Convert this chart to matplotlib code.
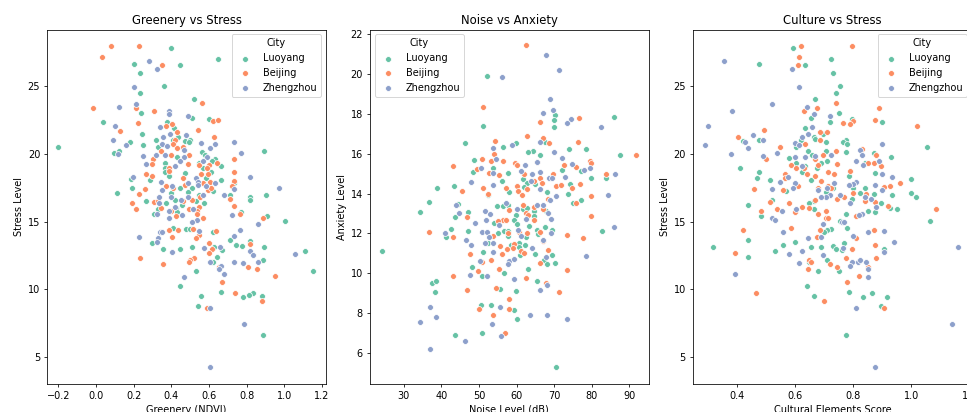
'''
Three scatter panels: urban environment against stress and anxiety, by city.
'''

import matplotlib
matplotlib.use('Agg')
import matplotlib.pyplot as plt

cities = ['Luoyang', 'Beijing', 'Zhengzhou']
city_colors = ['#66c2a5', '#fc8d62', '#8da0cb']

# Greenery vs Stress
ndvi_luoyang = [-0.2, 0.40, 0.65, 0.20, 0.445, 0.235, 0.36, 0.235, 0.52, 0.24, 0.035, 0.375, 0.51, 0.60, 0.415, 0.245, 0.435, 0.32, 0.41, 0.18, 0.47, 0.50, 0.495, 0.25, 0.33, 0.12, 0.095, 0.565, 0.89, 0.58, 0.43, 0.63, 0.615, 0.365, 0.545, 0.665, 0.365, 0.57, 0.365, 0.39, 0.475, 0.61, 0.285, 0.185, 0.585, 0.665, 0.73, 0.19, 0.445, 0.51, 0.11, 0.49, 0.62, 0.40, 0.545, 0.71, 0.815, 0.905, 0.815, 0.265, 0.42, 0.53, 0.575, 0.37, 0.455, 0.33, 0.425, 0.43, 0.31, 0.77, 0.91, 1.005, 0.41, 0.48, 0.50, 0.62, 0.71, 0.295, 0.82, 0.745, 0.775, 0.89, 0.355, 0.445, 0.51, 0.625, 0.67, 1.11, 0.645, 0.885, 0.62, 1.15, 0.53, 0.445, 0.665, 0.835, 0.81, 0.78, 0.88, 0.56, 0.54, 0.885]
stress_luoyang = [20.5, 27.85, 27.0, 26.65, 26.6, 26.0, 25.05, 24.5, 24.05, 23.05, 22.4, 22.4, 22.65, 22.55, 21.9, 21.5, 21.25, 21.0, 21.0, 20.85, 20.95, 21.05, 20.85, 20.7, 20.5, 20.25, 20.1, 20.15, 20.2, 19.9, 19.8, 19.65, 19.5, 19.3, 19.35, 19.1, 18.95, 18.95, 18.65, 18.4, 18.6, 18.7, 18.1, 18.15, 18.2, 18.1, 17.85, 17.45, 17.45, 17.5, 17.15, 17.2, 17.25, 17.1, 17.0, 17.0, 16.85, 16.95, 16.6, 16.55, 16.6, 16.5, 16.4, 16.35, 16.2, 15.9, 16.0, 15.7, 15.6, 15.7, 15.45, 15.05, 14.5, 14.45, 14.45, 14.2, 13.65, 13.4, 13.55, 13.3, 13.2, 13.1, 13.0, 13.0, 13.15, 13.1, 12.9, 12.85, 12.35, 12.2, 12.05, 11.35, 11.35, 10.25, 9.8, 9.75, 9.55, 9.45, 9.5, 9.5, 8.8, 6.65]
ndvi_beijing = [0.08, 0.23, 0.03, 0.35, 0.565, -0.015, 0.21, 0.31, 0.62, 0.65, 0.225, 0.405, 0.37, 0.125, 0.54, 0.43, 0.625, 0.42, 0.41, 0.43, 0.46, 0.345, 0.305, 0.40, 0.495, 0.73, 0.30, 0.49, 0.545, 0.64, 0.60, 0.59, 0.39, 0.385, 0.265, 0.295, 0.735, 0.555, 0.595, 0.46, 0.73, 0.605, 0.57, 0.72, 0.475, 0.37, 0.41, 0.26, 0.595, 0.61, 0.23, 0.55, 0.71, 0.19, 0.31, 0.46, 0.51, 0.33, 0.735, 0.215, 0.545, 0.495, 0.345, 0.535, 0.535, 0.425, 0.40, 0.765, 0.57, 0.885, 0.385, 0.435, 0.635, 0.515, 0.405, 0.545, 0.53, 0.60, 0.82, 0.615, 0.60, 0.235, 0.52, 0.50, 0.495, 0.355, 0.655, 0.805, 0.855, 0.95, 0.67, 0.74, 0.88, 0.59]
stress_beijing = [27.95, 28.0, 27.15, 26.6, 23.8, 23.4, 23.4, 23.15, 22.45, 22.5, 22.3, 22.2, 22.05, 21.7, 21.75, 21.65, 21.25, 21.05, 20.75, 20.45, 20.5, 20.2, 19.65, 19.9, 19.9, 19.65, 19.25, 19.25, 19.15, 19.3, 19.15, 18.95, 18.95, 18.75, 18.55, 18.4, 18.65, 18.5, 18.55, 18.2, 18.0, 17.9, 17.85, 17.65, 17.7, 17.6, 17.5, 17.4, 17.35, 17.45, 17.05, 16.85, 16.7, 16.35, 16.45, 16.55, 16.6, 16.5, 16.15, 15.9, 16.05, 15.9, 16.0, 15.8, 15.55, 15.45, 15.75, 15.6, 15.25, 15.3, 14.4, 14.4, 14.3, 14.45, 13.9, 14.0, 13.8, 13.45, 13.35, 13.0, 12.7, 12.3, 12.3, 12.2, 12.0, 11.9, 11.65, 11.65, 11.5, 11.0, 10.55, 9.7, 9.15, 8.6]
ndvi_zhengzhou = [0.28, 0.325, 0.20, 0.21, 0.12, 0.385, 0.39, 0.49, 0.10, 0.34, 0.395, 0.48, 0.09, 0.355, 0.35, 0.16, 0.375, 0.555, 0.63, 0.605, 0.735, 0.77, 0.465, 0.115, 0.365, 0.32, 0.25, 0.465, 0.59, 0.445, 0.57, 0.265, 0.42, 0.195, 0.815, 0.345, 0.53, 0.63, 0.49, 0.54, 0.54, 0.405, 0.585, 0.35, 0.73, 0.97, 0.68, 0.57, 0.40, 0.49, 0.335, 0.45, 0.335, 0.515, 0.42, 0.39, 0.455, 0.325, 0.39, 0.72, 0.535, 0.51, 0.86, 0.765, 0.545, 0.34, 0.35, 0.23, 0.73, 0.33, 0.325, 0.66, 0.575, 0.82, 0.405, 0.835, 1.055, 0.735, 0.78, 0.86, 0.605, 0.665, 0.655, 0.68, 0.465, 0.605, 0.785, 0.605]
stress_zhengzhou = [26.9, 26.25, 24.95, 23.7, 23.5, 23.2, 22.95, 22.8, 22.1, 22.0, 21.5, 21.4, 21.05, 21.25, 20.75, 20.7, 20.6, 20.8, 20.75, 20.45, 20.85, 20.1, 20.3, 20.0, 19.95, 19.9, 19.85, 19.75, 19.75, 19.5, 19.45, 19.25, 19.1, 18.3, 18.3, 17.95, 18.2, 17.85, 17.85, 17.9, 17.7, 17.65, 17.65, 17.35, 17.4, 17.5, 17.0, 17.0, 16.8, 16.8, 16.85, 16.6, 16.35, 15.95, 16.05, 15.75, 15.5, 15.6, 15.3, 15.5, 15.1, 14.95, 14.85, 14.35, 14.3, 14.2, 14.25, 13.9, 13.95, 13.8, 13.5, 13.15, 13.05, 12.85, 12.75, 12.55, 12.6, 12.0, 11.95, 12.05, 12.05, 11.75, 11.5, 11.15, 10.9, 8.6, 7.4, 4.25]

# Noise vs Anxiety
noise_luoyang = [24.2, 70.4, 52.2, 51.2, 85.8, 70.3, 69.9, 70.0, 46.3, 59.8, 56.3, 67.6, 64.4, 63.1, 66.1, 73.9, 78.4, 87.5, 48.6, 53.8, 48.3, 57.8, 72.1, 77.1, 56.1, 61.8, 62.7, 62.0, 64.8, 79.9, 83.8, 74.3, 43.4, 38.8, 52.3, 58.0, 68.1, 73.6, 36.6, 77.1, 75.1, 44.4, 54.8, 56.4, 57.7, 34.2, 47.0, 61.6, 62.7, 64.7, 67.7, 59.9, 64.7, 43.6, 59.2, 53.9, 60.0, 63.3, 67.6, 42.5, 47.0, 56.6, 57.6, 55.0, 65.5, 69.5, 65.7, 82.7, 41.3, 57.8, 62.5, 52.3, 58.5, 60.7, 62.3, 60.6, 51.1, 60.9, 64.8, 69.5, 67.4, 68.0, 70.2, 48.2, 63.1, 56.7, 50.7, 65.3, 37.4, 38.7, 55.5, 59.9, 38.2, 50.5, 53.1, 59.3, 60.0, 43.7, 50.8]
anxiety_luoyang = [11.1, 5.3, 19.9, 17.4, 17.85, 17.95, 17.7, 17.35, 16.55, 16.55, 16.35, 16.6, 16.15, 16.1, 15.95, 16.25, 16.25, 15.95, 15.7, 15.3, 15.1, 15.05, 15.2, 15.15, 14.65, 14.75, 14.55, 14.35, 14.5, 14.8, 14.8, 14.5, 14.4, 14.3, 13.95, 14.1, 14.1, 14.0, 13.6, 13.7, 13.55, 13.5, 13.4, 13.4, 13.45, 13.1, 13.1, 13.25, 13.3, 13.15, 13.15, 12.95, 12.9, 12.85, 12.7, 12.5, 12.45, 12.35, 12.3, 12.2, 12.1, 12.1, 12.1, 12.0, 12.15, 12.15, 11.95, 12.1, 11.8, 11.85, 11.8, 11.5, 11.4, 11.5, 11.4, 11.3, 11.05, 10.9, 10.95, 10.9, 10.65, 10.45, 10.5, 10.3, 10.2, 10.0, 9.85, 9.6, 9.5, 9.6, 9.2, 9.1, 9.05, 8.4, 8.4, 8.15, 7.7, 6.9, 7.0]
noise_beijing = [62.5, 51.2, 76.5, 66.2, 62.9, 66.9, 54.3, 68.7, 76.2, 54.1, 91.7, 50.9, 53.3, 56.5, 59.6, 60.1, 65.3, 79.6, 79.8, 43.1, 72.5, 75.7, 49.5, 52.7, 62.0, 69.6, 55.4, 83.8, 66.3, 64.6, 66.7, 76.8, 70.4, 71.7, 60.0, 45.6, 51.1, 57.2, 74.6, 62.9, 60.5, 61.4, 52.4, 79.8, 68.3, 75.7, 61.6, 64.6, 58.1, 66.9, 62.4, 79.9, 46.7, 63.1, 56.3, 57.1, 55.1, 64.7, 66.3, 36.6, 62.9, 60.6, 57.8, 53.7, 73.4, 43.1, 77.7, 66.9, 59.3, 55.7, 57.5, 59.0, 68.3, 61.2, 61.9, 47.6, 56.1, 53.2, 50.7, 66.2, 55.2, 49.8, 73.3, 43.0, 62.4, 67.9, 54.4, 46.9, 71.2, 57.9, 49.9, 57.9, 53.8, 56.8]
anxiety_beijing = [21.45, 18.35, 17.8, 17.6, 16.9, 16.8, 16.65, 16.55, 16.6, 16.0, 15.95, 15.75, 15.65, 15.65, 15.55, 15.45, 15.6, 15.65, 15.55, 15.4, 15.45, 15.35, 15.25, 15.05, 15.0, 15.0, 14.95, 15.0, 14.8, 14.65, 14.55, 14.5, 14.4, 14.45, 14.4, 14.15, 14.3, 14.3, 14.3, 14.25, 14.15, 13.95, 14.0, 13.9, 13.75, 13.55, 13.45, 13.35, 13.2, 13.25, 13.05, 12.9, 12.85, 12.95, 12.7, 12.7, 12.65, 12.7, 12.05, 12.05, 12.0, 12.05, 12.0, 11.85, 11.9, 11.8, 11.75, 11.6, 11.45, 11.35, 11.2, 11.25, 11.15, 11.1, 11.0, 10.95, 10.95, 10.65, 10.55, 10.5, 10.2, 10.1, 10.15, 9.85, 9.75, 9.5, 9.25, 9.15, 9.05, 8.7, 8.2, 8.2, 7.9, 7.0]
noise_zhengzhou = [67.9, 71.4, 56.2, 68.8, 69.7, 67.1, 74.5, 73.4, 82.5, 66.3, 58.8, 53.8, 70.0, 72.2, 54.4, 65.4, 62.3, 74.8, 79.5, 50.6, 77.9, 61.3, 53.7, 64.1, 66.2, 86.2, 73.0, 68.7, 69.5, 48.0, 63.9, 53.8, 66.1, 70.5, 84.3, 69.0, 57.2, 43.9, 65.5, 67.1, 60.1, 51.7, 44.7, 68.4, 53.0, 62.4, 69.1, 51.8, 48.9, 55.4, 85.8, 50.8, 52.1, 60.3, 41.1, 69.2, 52.8, 61.1, 46.5, 67.1, 51.6, 53.7, 47.9, 64.0, 53.8, 78.5, 67.9, 50.2, 57.9, 59.4, 57.7, 47.6, 52.1, 59.3, 68.2, 66.3, 37.1, 55.6, 63.7, 68.0, 38.6, 73.4, 34.2, 53.5, 55.8, 46.3, 37.1]
anxiety_zhengzhou = [20.95, 20.2, 19.85, 18.75, 18.2, 18.05, 17.75, 17.55, 17.35, 16.6, 16.45, 16.3, 16.1, 15.8, 15.75, 15.6, 15.45, 15.5, 15.3, 15.3, 15.2, 15.15, 15.05, 15.0, 15.1, 15.0, 14.85, 14.8, 14.8, 14.6, 14.65, 14.45, 14.25, 13.9, 13.95, 13.7, 13.55, 13.45, 13.45, 13.45, 13.25, 13.15, 13.05, 13.05, 13.0, 12.75, 12.75, 12.7, 12.5, 12.4, 12.3, 12.05, 12.05, 12.15, 12.0, 12.0, 11.8, 11.85, 11.65, 11.65, 11.5, 11.5, 11.4, 11.25, 11.05, 10.85, 10.8, 10.6, 10.6, 10.7, 10.45, 9.9, 9.85, 9.7, 9.4, 9.15, 8.3, 8.3, 7.9, 7.9, 7.8, 7.7, 7.55, 7.45, 6.85, 6.6, 6.2]

# Culture vs Stress
culture_luoyang = [0.32, 0.475, 0.595, 0.635, 0.725, 0.73, 0.755, 0.74, 0.67, 0.75, 0.655, 0.795, 0.72, 0.90, 0.635, 0.695, 0.665, 0.67, 0.42, 0.475, 0.62, 0.775, 0.705, 0.765, 0.78, 0.605, 1.055, 0.645, 0.87, 0.705, 0.775, 0.66, 0.93, 0.58, 0.71, 0.605, 0.69, 0.84, 0.635, 0.41, 0.675, 0.625, 0.475, 0.875, 0.785, 0.47, 0.515, 0.655, 1.0, 0.80, 0.84, 0.73, 0.57, 0.705, 0.825, 1.0, 0.87, 0.935, 1.015, 0.795, 0.52, 0.665, 0.895, 0.65, 0.44, 0.925, 0.665, 0.95, 0.85, 0.875, 0.775, 0.485, 0.755, 1.065, 0.78, 0.725, 0.71, 0.70, 0.44, 0.60, 0.77, 0.56, 0.73, 0.69, 0.655, 0.905, 0.74, 0.53, 0.76, 0.44, 0.71, 0.65, 0.68, 0.75, 0.64, 0.785, 0.865, 0.665, 0.835, 0.915, 0.895, 0.775]
culture_stress_luoyang = [13.15, 26.65, 27.85, 26.6, 27.0, 26.0, 25.05, 24.5, 24.05, 23.05, 22.65, 22.55, 22.4, 22.4, 21.9, 21.5, 21.25, 21.1, 20.95, 21.0, 21.0, 21.05, 20.85, 20.85, 20.75, 20.5, 20.5, 20.25, 20.1, 20.2, 20.15, 19.9, 19.8, 19.7, 19.5, 19.3, 19.3, 19.35, 19.1, 18.95, 18.95, 18.7, 18.65, 18.6, 18.4, 18.2, 18.1, 18.1, 18.15, 17.5, 17.45, 17.45, 17.25, 17.2, 17.15, 17.1, 17.05, 17.0, 16.85, 16.65, 16.6, 16.55, 16.4, 16.35, 16.2, 16.0, 15.95, 15.95, 15.75, 15.7, 15.55, 15.45, 15.05, 15.05, 14.5, 14.45, 14.35, 14.2, 13.65, 13.5, 13.4, 13.3, 13.2, 13.1, 13.1, 13.0, 13.0, 12.85, 12.9, 12.35, 12.2, 12.05, 11.35, 11.35, 10.25, 9.8, 9.75, 9.5, 9.45, 9.45, 8.8, 6.65]
culture_beijing = [0.622, 0.795, 0.615, 0.61, 0.74, 0.89, 0.675, 0.63, 0.875, 0.80, 0.79, 0.765, 1.02, 0.495, 0.685, 0.71, 0.405, 0.685, 0.635, 0.55, 0.83, 0.74, 0.695, 0.88, 0.50, 0.67, 0.745, 0.85, 0.87, 0.68, 0.895, 0.585, 0.605, 0.79, 0.63, 0.565, 0.715, 0.735, 0.64, 0.67, 0.565, 0.69, 0.96, 0.61, 0.715, 0.905, 0.925, 0.46, 0.56, 0.68, 0.725, 0.80, 0.845, 0.77, 0.745, 0.67, 0.84, 0.875, 0.515, 0.58, 0.92, 0.625, 0.54, 1.085, 0.65, 0.705, 0.485, 0.60, 0.68, 0.81, 0.705, 0.715, 0.42, 0.585, 0.685, 0.87, 0.675, 0.81, 0.875, 0.795, 0.395, 0.775, 0.88, 0.65, 0.655, 0.72, 0.745, 0.85, 0.645, 0.82, 0.78, 0.465, 0.70, 0.905]
culture_stress_beijing = [27.95, 28.0, 27.15, 26.6, 23.8, 23.4, 23.4, 23.15, 22.5, 22.45, 22.2, 22.3, 22.05, 21.75, 21.65, 21.65, 21.25, 21.05, 20.75, 20.5, 20.4, 20.2, 19.9, 19.9, 19.65, 19.65, 19.25, 19.3, 19.3, 19.15, 19.1, 19.15, 18.95, 18.75, 18.95, 18.55, 18.65, 18.55, 18.5, 18.4, 18.2, 18.0, 17.85, 17.65, 17.65, 17.55, 17.6, 17.4, 17.35, 17.45, 17.5, 17.1, 17.05, 16.85, 16.7, 16.6, 16.55, 16.45, 16.45, 16.35, 16.15, 16.05, 15.95, 15.9, 16.0, 15.75, 15.75, 15.7, 15.55, 15.45, 15.3, 15.25, 14.4, 14.5, 14.35, 14.35, 13.9, 13.8, 13.3, 13.0, 12.65, 12.3, 12.3, 12.2, 12.0, 11.9, 11.65, 11.65, 11.5, 11.0, 10.55, 9.7, 9.1, 8.6]
culture_zhengzhou = [0.355, 0.59, 0.615, 0.52, 0.64, 0.385, 0.665, 0.72, 0.30, 0.66, 0.645, 0.455, 0.29, 0.49, 0.625, 0.43, 0.60, 0.615, 0.44, 0.90, 0.825, 0.54, 0.38, 0.83, 0.49, 0.60, 0.635, 0.67, 0.725, 0.81, 0.89, 0.835, 0.625, 0.90, 0.575, 0.935, 0.55, 0.60, 0.735, 0.81, 0.80, 0.785, 0.875, 0.595, 0.52, 0.90, 0.68, 0.71, 0.72, 0.755, 0.705, 0.69, 0.84, 0.86, 0.79, 0.88, 0.605, 0.555, 0.83, 0.82, 0.52, 0.53, 0.76, 0.77, 0.695, 0.56, 0.85, 0.905, 0.80, 0.69, 0.645, 0.94, 1.16, 0.765, 0.625, 0.905, 0.58, 0.695, 0.615, 0.795, 0.815, 0.825, 0.845, 0.79, 0.85, 0.395, 0.85, 0.81, 1.14, 0.875]
culture_stress_zhengzhou = [26.9, 26.25, 24.95, 23.7, 23.5, 23.2, 22.95, 22.8, 22.1, 22.0, 21.5, 21.4, 20.7, 21.05, 21.25, 20.85, 20.8, 20.65, 20.45, 20.75, 20.3, 20.1, 20.0, 19.95, 19.85, 19.8, 19.75, 19.85, 19.9, 19.5, 19.45, 19.2, 19.1, 18.55, 18.3, 18.3, 17.95, 17.85, 17.85, 17.9, 17.8, 17.7, 17.7, 17.45, 17.4, 17.35, 17.35, 17.45, 17.0, 17.0, 16.85, 16.8, 16.8, 16.65, 16.35, 16.05, 15.95, 15.75, 15.55, 15.5, 15.3, 15.1, 14.95, 15.0, 14.85, 14.25, 14.2, 14.3, 13.95, 13.9, 13.8, 13.5, 13.15, 13.05, 12.85, 12.75, 12.6, 12.55, 11.95, 12.05, 12.05, 12.15, 12.0, 11.75, 11.5, 11.15, 10.9, 8.6, 7.4, 4.25]

ndvi_ticks = [-0.2, 0.0, 0.2, 0.4, 0.6, 0.8, 1.0, 1.2]
noise_ticks = [30, 40, 50, 60, 70, 80, 90]
culture_ticks = [0.4, 0.6, 0.8, 1.0, 1.2]
stress_ticks = [5, 10, 15, 20, 25]
anxiety_ticks = [6, 8, 10, 12, 14, 16, 18, 20, 22]

W, H = 967, 412
DPI = 70


def draw_panel(rect, xs, ys, title, xlabel, ylabel, xlim, ylim, xticks, yticks, legend_loc):
    left, top, right, bottom = rect
    ax = fig.add_axes([left / W, 1 - bottom / H, (right - left) / W, (bottom - top) / H])
    for city, color, x, y in zip(cities, city_colors, xs, ys):
        ax.scatter(x, y, s=36, color=color, edgecolor='white', linewidth=0.75, label=city)
    ax.set_xticks(xticks)
    ax.set_yticks(yticks)
    ax.set_xlim(xlim)
    ax.set_ylim(ylim)
    ax.set_title(title)
    ax.set_xlabel(xlabel)
    ax.set_ylabel(ylabel)
    ax.legend(title='City', loc=legend_loc)
    return ax


# The source was drawn small, so the default sizes at 70 dpi give its proportions
fig = plt.figure(figsize=(W / DPI, H / DPI), dpi=DPI)

draw_panel((47, 29.5, 326, 384),
           [ndvi_luoyang, ndvi_beijing, ndvi_zhengzhou],
           [stress_luoyang, stress_beijing, stress_zhengzhou],
           'Greenery vs Stress', 'Greenery (NDVI)', 'Stress Level',
           (-0.26, 1.221), (3.0, 29.2), ndvi_ticks, stress_ticks, 'upper right')
draw_panel((369.7, 29.5, 649, 384),
           [noise_luoyang, noise_beijing, noise_zhengzhou],
           [anxiety_luoyang, anxiety_beijing, anxiety_zhengzhou],
           'Noise vs Anxiety', 'Noise Level (dB)', 'Anxiety Level',
           (20.96, 95.2), (4.45, 22.23), noise_ticks, anxiety_ticks, 'upper left')
draw_panel((692.7, 29.5, 972, 384),
           [culture_luoyang, culture_beijing, culture_zhengzhou],
           [culture_stress_luoyang, culture_stress_beijing, culture_stress_zhengzhou],
           'Culture vs Stress', 'Cultural Elements Score', 'Stress Level',
           (0.249, 1.208), (3.0, 29.2), culture_ticks, stress_ticks, 'upper right')

fig.savefig('out.png', dpi=DPI)
plt.close(fig)
